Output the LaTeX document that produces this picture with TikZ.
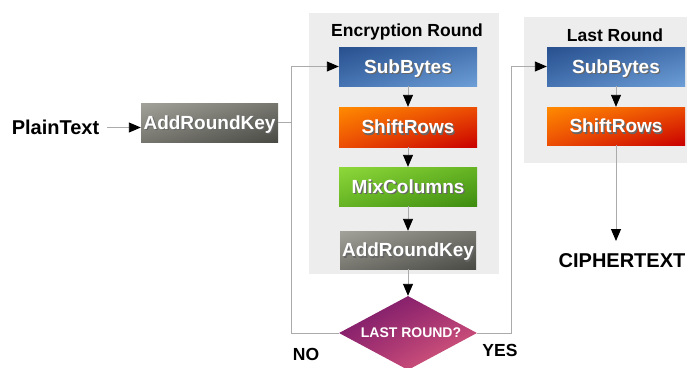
\documentclass[tikz,border=0pt]{standalone}
\usepackage{fontspec}
\setmainfont{Liberation Sans}
\usetikzlibrary{arrows.meta,shapes.geometric,shadings}

\definecolor{panel}{HTML}{EDEDED}
\definecolor{wire}{HTML}{ABABAB}

% white box caption with a small dark drop shadow
\newcommand{\shd}[1]{\makebox[0pt][l]{\hspace{1.3pt}\raisebox{-1.3pt}{\color{black!60}#1}}{\color{white}#1}}

\definecolor{bl1}{HTML}{28508F}\definecolor{bl2}{HTML}{4674B2}\definecolor{bl3}{HTML}{6D9ED6}
\definecolor{or1}{HTML}{FF8A00}\definecolor{or2}{HTML}{EC4E04}\definecolor{or3}{HTML}{C90000}
\definecolor{gr1}{HTML}{8ED83A}\definecolor{gr2}{HTML}{66B424}\definecolor{gr3}{HTML}{3E8C10}
\definecolor{gy1}{HTML}{A2A29A}\definecolor{gy2}{HTML}{76766F}\definecolor{gy3}{HTML}{4A4A45}
\definecolor{dm1}{HTML}{6C1467}\definecolor{dm2}{HTML}{A52E72}\definecolor{dm3}{HTML}{E8687F}

\tikzset{
  box/.style={rectangle, minimum width=138pt, minimum height=39pt, inner sep=0pt,
    text height=13.6pt, text depth=0pt,
    font=\fontsize{19}{21}\selectfont\bfseries},
  blue/.style={box, shading=bilinear interpolation,
    upper left=bl1, upper right=bl2, lower left=bl2, lower right=bl3},
  orange/.style={box, shading=bilinear interpolation,
    upper left=or1, upper right=or2, lower left=or2, lower right=or3},
  green/.style={box, shading=bilinear interpolation,
    upper left=gr1, upper right=gr2, lower left=gr2, lower right=gr3},
  grey/.style={box, shading=bilinear interpolation,
    upper left=gy1, upper right=gy2, lower left=gy2, lower right=gy3},
  outer/.style={font=\fontsize{20}{22}\selectfont\bfseries, inner sep=0pt},
  title/.style={font=\fontsize{17.5}{19}\selectfont\bfseries, inner sep=0pt},
  answer/.style={font=\fontsize{17.5}{19}\selectfont\bfseries, inner sep=0pt},
  link/.style={draw=wire, line width=0.9pt,
    -{Triangle[length=12pt,width=10pt,color=black]}},
  plain wire/.style={draw=wire, line width=0.9pt},
}

\begin{document}
\begin{tikzpicture}[x=1pt,y=-1pt]
\useasboundingbox (0,0) rectangle (688,367);

% round panels
\fill[panel] (309,13) rectangle (499,274);
\fill[panel] (524,17) rectangle (687,163);
\node[title] (enctitle) at (407,32) {Encryption Round};
\node[title] (lasttitle) at (615,35) {Last Round};

% input stage
\node[outer] (plain) at (55.5,127) {PlainText};
\node[grey, minimum width=137pt] (ark1) at (209.5,122.5) {\shd{AddRoundKey}};

% encryption round
\node[blue]   (sb1) at (408,66.5) {\shd{SubBytes}};
\node[orange, minimum height=40pt] (sr1) at (408,127) {\shd{ShiftRows}};
\node[green]  (mc)  at (408,186.5) {\shd{MixColumns}};
\node[grey, minimum width=136pt, minimum height=38pt] (ark2) at (408,250) {\shd{AddRoundKey}};

% decision
\node[diamond, minimum width=138pt, minimum height=74pt, inner sep=0pt,
      shading=bilinear interpolation,
      upper left=dm1, upper right=dm2, lower left=dm2, lower right=dm3] (dia) at (408,333) {};
\node[font=\fontsize{14}{16}\selectfont\bfseries, text=white, inner sep=0pt] (dialabel) at (411,333) {LAST ROUND?};
\node[answer] (no) at (306,354) {NO};
\node[answer] (yes) at (500,350) {YES};

% last round
\node[blue]   (sb2) at (616,66.5) {\shd{SubBytes}};
\node[orange, minimum height=38pt] (sr2) at (616,126) {\shd{ShiftRows}};
\node[outer] (cipher) at (622,261) {CIPHERTEXT};

% connectors
\coordinate (plainout) at (107,127.5);
\coordinate (nocorner) at (291,333);
\coordinate (yescorner) at (511,333);
\coordinate (cipherin) at (616,241);

\draw[link] (plainout) -- (plainout -| ark1.west);
\draw[plain wire] (ark1.east) -- (ark1.east -| nocorner);
\draw[link] (dia.west) -- (nocorner) |- (sb1.west);
\draw[link] (sb1) -- (sr1);
\draw[link] (sr1) -- (mc);
\draw[link] (mc) -- (ark2);
\draw[link] (ark2) -- (dia.north);
\draw[link] (dia.east) -- (yescorner) |- (sb2.west);
\draw[link] (sb2) -- (sr2);
\draw[link] (sr2.south) -- (cipherin);
\end{tikzpicture}
\end{document}
